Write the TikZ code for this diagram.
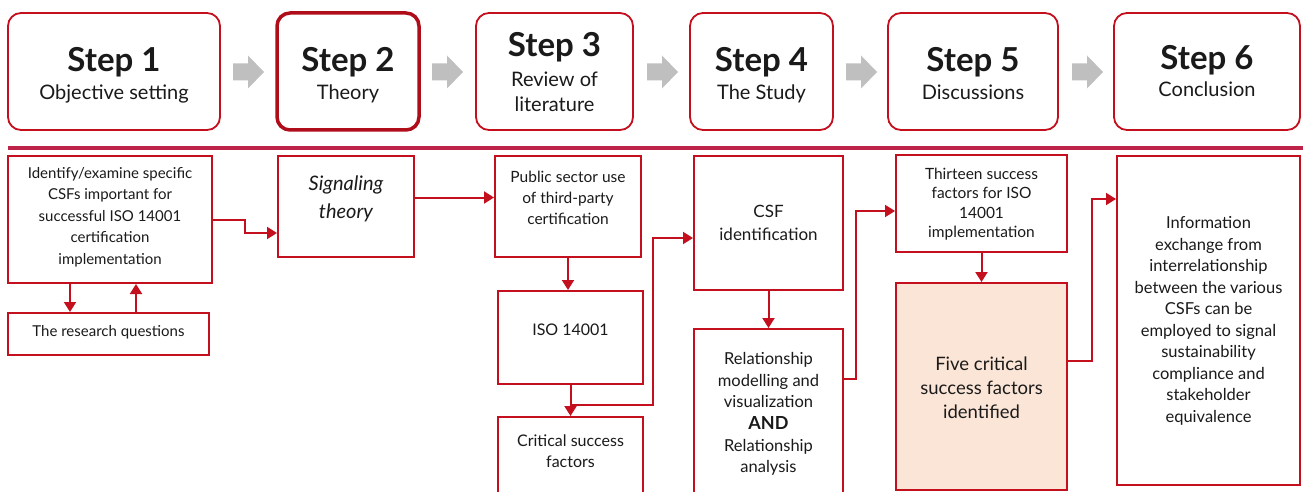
\documentclass[tikz,border=0pt]{standalone}
\usepackage{fontspec}
\setmainfont{Lato}
\usetikzlibrary{arrows.meta}
\definecolor{bred}{HTML}{C40F1E}
\definecolor{rulec}{HTML}{BE2449}
\definecolor{peach}{HTML}{FBE5D6}
\definecolor{garrowc}{HTML}{BFBFBF}
\definecolor{txt}{HTML}{1A1A1A}
\begin{document}
\begin{tikzpicture}[x=1pt,y=-1pt,
  stepbox/.style={draw=bred, line width=1.8pt, rounded corners=13pt, fill=white},
  box/.style={draw=bred, line width=2pt, fill=white},
  garrow/.pic={\fill[garrowc] (-15,-8.5) -- (0,-8.5) -- (0,-16.5) -- (16,0) -- (0,16.5) -- (0,8.5) -- (-15,8.5) -- cycle;},
  con/.style={draw=bred, line width=2pt, -{Triangle[length=10pt,width=12pt]}},
  line/.style={draw=bred, line width=2pt},
  ttl/.style={font=\fontsize{33}{35}\selectfont\bfseries, text=txt, anchor=base, inner sep=0pt},
  sub/.style={font=\fontsize{20}{25}\selectfont, align=center, text=txt, inner sep=0pt},
  tx/.style={align=center, text=txt, inner sep=0pt}
]
\useasboundingbox (0,0) rectangle (1303,492);
\fill[white] (0,0) rectangle (1303,492);

% top step boxes
\node[stepbox, minimum width=212pt, minimum height=117pt] (s1) at (114,71.5) {};
\node[stepbox, draw=bred!90!black, line width=3.5pt, minimum width=142pt, minimum height=117pt] (s2) at (348,71.5) {};
\node[stepbox, minimum width=157pt, minimum height=117pt] (s3) at (554.5,71.5) {};
\node[stepbox, minimum width=143pt, minimum height=117pt] (s4) at (761.5,71.5) {};
\node[stepbox, minimum width=170pt, minimum height=117pt] (s5) at (973,71.5) {};
\node[stepbox, minimum width=186pt, minimum height=117pt] (s6) at (1207,71.5) {};

\node[ttl] (t1) at (114,72) {Step 1};
\node[sub, anchor=base] (u1) at (114,100) {Objective setting};
\node[ttl] (t2) at (348,72) {Step 2};
\node[sub, anchor=base] (u2) at (348,100) {Theory};
\node[ttl] (t3) at (554.5,57) {Step 3};
\node[sub, anchor=base] (u3) at (554.5,112) {Review of\\literature};
\node[ttl] (t4) at (761.5,72) {Step 4};
\node[sub, anchor=base] (u4) at (761.5,100) {The Study};
\node[ttl] (t5) at (973,72) {Step 5};
\node[sub, anchor=base] (u5) at (973,100) {Discussions};
\node[ttl] (t6) at (1207,70) {Step 6};
\node[sub, anchor=base] (u6) at (1207,97) {Conclusion};

% grey arrows
\pic at (248,72) {garrow};
\pic at (447,72) {garrow};
\pic at (662,72) {garrow};
\pic at (861,72) {garrow};
\pic at (1087,72) {garrow};

% rule
\draw[rulec, line width=4pt] (8,148) -- (1303,148);

% bottom boxes
\node[box, minimum width=204pt, minimum height=127pt] (idf) at (110,219.5) {};
\node[box, minimum width=201pt, minimum height=42pt] (rq) at (108.5,334) {};
\node[box, minimum width=136pt, minimum height=101pt] (sig) at (346,206.5) {};
\node[box, minimum width=146pt, minimum height=101pt] (pub) at (568,206.5) {};
\node[box, minimum width=145pt, minimum height=93pt] (iso) at (570.5,337.5) {};
\node[box, minimum width=145pt, minimum height=90pt] (crit) at (570.5,462) {};
\node[box, minimum width=149pt, minimum height=134pt] (csf) at (768.5,223) {};
\node[box, minimum width=149pt, minimum height=178pt] (rel) at (768.5,418) {};
\node[box, minimum width=171pt, minimum height=97pt] (thr) at (981.5,203.5) {};
\node[box, fill=peach, minimum width=171pt, minimum height=207pt] (five) at (981.5,386.5) {};
\node[box, minimum width=183pt, minimum height=329pt] (info) at (1208.5,320.5) {};

% texts
\node[tx, font=\fontsize{15}{21.5}\selectfont] (xidf) at (110,217) {Identify/examine specific\\CSFs important for\\successful ISO 14001\\certification\\implementation};
\node[tx, font=\fontsize{15}{21}\selectfont] (xrq) at (108.5,332) {The research questions};
\node[tx, font=\fontsize{20}{28}\selectfont\itshape] (xsig) at (346,199) {Signaling\\theory};
\node[tx, font=\fontsize{15.5}{21}\selectfont] (xpub) at (568,198) {Public sector use\\of third-party\\certification};
\node[tx, font=\fontsize{16}{21}\selectfont] (xiso) at (570.5,330) {ISO 14001};
\node[tx, font=\fontsize{16}{21}\selectfont] (xcrit) at (570.5,451) {Critical success\\factors};
\node[tx, font=\fontsize{17}{23}\selectfont] (xcsf) at (768.5,223) {CSF\\identification};
\node[tx, font=\fontsize{16.5}{21.6}\selectfont] (xrel) at (768.5,414) {Relationship\\modelling and\\visualization\\{\fontsize{18}{21.6}\selectfont\bfseries AND}\\Relationship\\analysis};
\node[tx, font=\fontsize{15.5}{19.5}\selectfont] (xthr) at (981.5,204) {Thirteen success\\factors for ISO\\14001\\implementation};
\node[tx, font=\fontsize{18.5}{24}\selectfont] (xfive) at (981.5,388) {Five critical\\success factors\\identified};
\node[tx, font=\fontsize{16.5}{21.5}\selectfont] (xinfo) at (1208.5,321) {Information\\exchange from\\interrelationship\\between the various\\CSFs can be\\employed to signal\\sustainability\\compliance and\\stakeholder\\equivalence};

% connectors
\draw[con] (idf.east) -- ++(32,0) |- ([yshift=-26.5pt]sig.west);
\draw[con] ([xshift=-40pt]idf.south) -- ([xshift=-38.5pt]rq.north);
\draw[con] ([xshift=27.5pt]rq.north) -- ([xshift=26pt]idf.south);
\draw[con] ([yshift=9pt]sig.east) -- ([yshift=9pt]pub.west);
\draw[con] (pub.south) -- (pub.south |- iso.north);
\coordinate (j1) at (570.5,405);
\draw[line] (iso.south) -- (j1);
\draw[con] (j1) -- (crit.north);
\draw[con] (j1) -- (653,405) |- ([yshift=-15pt]csf.west);
\draw[con] (csf.south) -- (rel.north);
\draw[con] ([yshift=39pt]rel.east) -- ++(12,0) |- ([yshift=-7.5pt]thr.west);
\draw[con] (thr.south) -- (five.north);
\draw[con] ([yshift=25.5pt]five.east) -- ++(24,0) |- ([yshift=121.5pt]info.west);
\end{tikzpicture}
\end{document}
